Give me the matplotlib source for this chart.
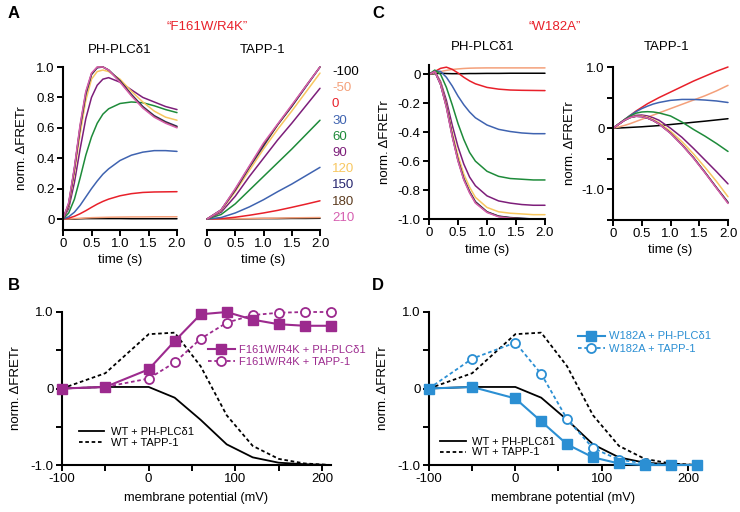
import matplotlib
matplotlib.use("Agg")
import matplotlib.pyplot as plt
from matplotlib.ticker import FuncFormatter, MultipleLocator
from matplotlib.lines import Line2D

plt.rcParams['font.family'] = ['Liberation Sans', 'DejaVu Sans']
plt.rcParams['font.size'] = 9.5

# ── data ─────────────────────────────────────────────────────────
VOLTAGES = [-100, -50, 0, 30, 60, 90, 120, 150, 180, 210]
V_COLORS = ["#000000", "#F4A07A", "#E8202A", "#3F63B0", "#1E8B3A",
            "#7D1E7A", "#F7C760", "#25246E", "#5C3B1E", "#D65FB0"]

T_FINE = [0, 0.1, 0.2, 0.3, 0.4, 0.5, 0.6, 0.7, 0.8, 1.0, 1.2, 1.4, 1.6, 1.8, 2.0]
T_COARSE = [0, 0.25, 0.5, 0.75, 1.0, 1.25, 1.5, 1.75, 2.0]

# A: F161W/R4K + PH-PLCd1 (on T_FINE)
A_PLC = [
    [0, 0, 0, 0.002, 0.003, 0.003, 0.003, 0.003, 0.003, 0.003, 0.002, 0.002, 0.002, 0.002, 0.002],
    [0, 0.001, 0.003, 0.005, 0.007, 0.009, 0.010, 0.011, 0.012, 0.013, 0.014, 0.014, 0.015, 0.015, 0.015],
    [0, 0.006, 0.018, 0.035, 0.055, 0.077, 0.098, 0.116, 0.131, 0.153, 0.167, 0.175, 0.178, 0.179, 0.18],
    [0, 0.015, 0.045, 0.09, 0.145, 0.20, 0.25, 0.295, 0.33, 0.385, 0.42, 0.44, 0.45, 0.45, 0.445],
    [0, 0.04, 0.13, 0.27, 0.42, 0.54, 0.63, 0.69, 0.725, 0.76, 0.77, 0.765, 0.745, 0.72, 0.70],
    [0, 0.07, 0.24, 0.46, 0.66, 0.80, 0.88, 0.92, 0.93, 0.90, 0.85, 0.80, 0.77, 0.74, 0.72],
    [0, 0.09, 0.30, 0.56, 0.78, 0.92, 0.97, 0.98, 0.97, 0.92, 0.84, 0.77, 0.71, 0.67, 0.65],
    [0, 0.10, 0.33, 0.60, 0.82, 0.95, 0.995, 1.0, 0.98, 0.91, 0.82, 0.74, 0.68, 0.64, 0.61],
    [0, 0.10, 0.33, 0.61, 0.83, 0.955, 0.998, 1.0, 0.98, 0.905, 0.815, 0.735, 0.675, 0.635, 0.605],
    [0, 0.11, 0.34, 0.62, 0.84, 0.96, 1.0, 1.0, 0.98, 0.90, 0.81, 0.73, 0.67, 0.63, 0.60],
]

# A: F161W/R4K + TAPP-1 (on T_COARSE)
A_TAPP = [
    [0, 0, 0.001, 0.002, 0.003, 0.003, 0.004, 0.004, 0.005],
    [0, 0, 0.002, 0.003, 0.005, 0.006, 0.008, 0.009, 0.010],
    [0, 0.003, 0.012, 0.025, 0.04, 0.057, 0.077, 0.098, 0.12],
    [0, 0.01, 0.04, 0.08, 0.127, 0.18, 0.23, 0.285, 0.34],
    [0, 0.03, 0.10, 0.19, 0.28, 0.37, 0.46, 0.555, 0.65],
    [0, 0.045, 0.15, 0.28, 0.40, 0.52, 0.63, 0.745, 0.86],
    [0, 0.055, 0.18, 0.32, 0.46, 0.59, 0.71, 0.835, 0.96],
    [0, 0.06, 0.19, 0.34, 0.48, 0.62, 0.74, 0.87, 1.0],
    [0, 0.06, 0.195, 0.345, 0.49, 0.62, 0.745, 0.875, 1.0],
    [0, 0.06, 0.20, 0.35, 0.50, 0.625, 0.75, 0.875, 1.0],
]

# C: W182A + PH-PLCd1 (on T_FINE)
C_PLC = [
    [0, 0.005, 0.008, 0.006, 0.005, 0.005, 0.005, 0.006, 0.006, 0.007, 0.007, 0.008, 0.008, 0.008, 0.008],
    [0, 0.01, 0.02, 0.028, 0.034, 0.038, 0.041, 0.043, 0.044, 0.045, 0.045, 0.045, 0.045, 0.045, 0.045],
    [0, 0.02, 0.042, 0.05, 0.035, 0.01, -0.02, -0.045, -0.065, -0.09, -0.102, -0.108, -0.11, -0.111, -0.112],
    [0, 0.025, 0.02, -0.02, -0.08, -0.15, -0.21, -0.26, -0.30, -0.35, -0.38, -0.395, -0.405, -0.41, -0.41],
    [0, 0.03, 0.0, -0.09, -0.21, -0.34, -0.45, -0.54, -0.60, -0.67, -0.705, -0.72, -0.725, -0.73, -0.73],
    [0, 0.02, -0.05, -0.18, -0.35, -0.50, -0.62, -0.71, -0.77, -0.84, -0.875, -0.89, -0.90, -0.905, -0.905],
    [0, 0.02, -0.06, -0.21, -0.40, -0.56, -0.69, -0.78, -0.85, -0.92, -0.95, -0.96, -0.965, -0.97, -0.97],
    [0, 0.02, -0.07, -0.22, -0.42, -0.59, -0.72, -0.81, -0.88, -0.95, -0.98, -0.99, -0.995, -1.0, -1.0],
    [0, 0.02, -0.07, -0.225, -0.425, -0.595, -0.725, -0.815, -0.885, -0.952, -0.982, -0.992, -0.997, -1.0, -1.0],
    [0, 0.02, -0.07, -0.23, -0.43, -0.60, -0.73, -0.82, -0.89, -0.955, -0.985, -0.995, -1.0, -1.0, -1.0],
]

# C: W182A + TAPP-1 (on T_FINE)
C_TAPP = [
    [0, 0.003, 0.008, 0.013, 0.018, 0.023, 0.03, 0.036, 0.043, 0.06, 0.078, 0.097, 0.115, 0.135, 0.155],
    [0, 0.02, 0.045, 0.075, 0.11, 0.145, 0.18, 0.215, 0.25, 0.32, 0.39, 0.46, 0.53, 0.61, 0.70],
    [0, 0.07, 0.14, 0.21, 0.28, 0.34, 0.40, 0.45, 0.50, 0.59, 0.68, 0.77, 0.85, 0.93, 1.0],
    [0, 0.07, 0.14, 0.21, 0.27, 0.32, 0.36, 0.395, 0.42, 0.455, 0.47, 0.47, 0.46, 0.445, 0.42],
    [0, 0.07, 0.14, 0.20, 0.245, 0.265, 0.27, 0.265, 0.25, 0.20, 0.10, -0.02, -0.13, -0.25, -0.38],
    [0, 0.065, 0.13, 0.18, 0.21, 0.215, 0.20, 0.17, 0.13, 0.0, -0.15, -0.33, -0.52, -0.71, -0.91],
    [0, 0.065, 0.13, 0.175, 0.20, 0.20, 0.18, 0.14, 0.09, -0.05, -0.22, -0.42, -0.64, -0.87, -1.12],
    [0, 0.065, 0.13, 0.175, 0.195, 0.19, 0.165, 0.125, 0.07, -0.08, -0.27, -0.48, -0.72, -0.97, -1.21],
    [0, 0.065, 0.13, 0.175, 0.195, 0.19, 0.165, 0.125, 0.07, -0.08, -0.27, -0.485, -0.725, -0.975, -1.22],
    [0, 0.065, 0.13, 0.175, 0.195, 0.19, 0.165, 0.125, 0.07, -0.085, -0.275, -0.49, -0.73, -0.98, -1.23],
]

# B / D: steady-state vs membrane potential
MV = [-100, -50, 0, 30, 60, 90, 120, 150, 180, 210]
WT_PLC = [0, 0.02, 0.02, -0.12, -0.41, -0.73, -0.90, -0.97, -0.99, -1.0]
WT_TAPP = [0, 0.20, 0.71, 0.73, 0.29, -0.35, -0.75, -0.92, -0.98, -1.0]
F161W_PLC = [0, 0.02, 0.25, 0.62, 0.97, 1.0, 0.90, 0.84, 0.82, 0.82]
F161W_TAPP = [0, 0.02, 0.13, 0.34, 0.65, 0.86, 0.96, 0.99, 1.0, 1.0]
W182A_PLC = [0, 0.02, -0.13, -0.43, -0.73, -0.90, -0.98, -1.0, -1.0, -1.0]
W182A_TAPP = [0, 0.39, 0.60, 0.19, -0.40, -0.78, -0.93, -0.98, -1.0, -1.0]

PURPLE = "#9C2A8E"
BLUE = "#2B8FD3"
RED = "#E8202A"

# ── layout helpers ───────────────────────────────────────────────
W, H = 740, 512
fig = plt.figure(figsize=(W / 100, H / 100), dpi=100)


def add_ax(x0, x1, ytop, ybot):
    return fig.add_axes([x0 / W, 1 - ybot / H, (x1 - x0) / W, (ybot - ytop) / H])


def ftext(x, y, s, **kw):
    # place text by pixel position (from top-left)
    kw.setdefault("ha", "center")
    kw.setdefault("va", "center")
    fig.text(x / W, 1 - y / H, s, **kw)


def fmt1(v, pos):
    return "0" if abs(v) < 1e-9 else f"{v:.1f}"


def style(ax, left=True):
    for s in ("top", "right"):
        ax.spines[s].set_visible(False)
    ax.spines["left"].set_visible(left)
    for s in ("left", "bottom"):
        ax.spines[s].set_linewidth(1.5)
    ax.tick_params(direction="out", length=4, width=1.4, labelsize=9.5, pad=2)
    if not left:
        ax.tick_params(axis="y", left=False, labelleft=False)
    ax.set_facecolor("none")


def time_panel(ax, t, curves, ylim, left=True):
    for ys, c in zip(curves, V_COLORS):
        ax.plot(t, ys, color=c, lw=1.1, clip_on=False, solid_capstyle="round")
    ax.set_xlim(0, 2)
    ax.set_ylim(*ylim)
    ax.xaxis.set_major_locator(MultipleLocator(0.5))
    ax.xaxis.set_major_formatter(FuncFormatter(fmt1))
    ax.yaxis.set_major_formatter(FuncFormatter(fmt1))
    style(ax, left)
    ax.set_xlabel("time (s)", fontsize=9.5, labelpad=3)


# ── A ────────────────────────────────────────────────────────────
axA1 = add_ax(63, 177, 67, 230)
time_panel(axA1, T_FINE, A_PLC, (-0.072, 1.0))
axA1.yaxis.set_major_locator(MultipleLocator(0.2))
axA1.set_ylabel("norm. ΔFRETr", fontsize=9.5, labelpad=6)

axA2 = add_ax(207, 320, 67, 230)
time_panel(axA2, T_COARSE, A_TAPP, (-0.072, 1.0), left=False)

ftext(120, 50, "PH-PLCδ1", fontsize=9.5)
ftext(263, 50, "TAPP-1", fontsize=9.5)

for i, (v, c) in enumerate(zip(VOLTAGES, V_COLORS)):
    ftext(332, 72 + i * 16.2, str(v), color=c, fontsize=9.5, ha="left")

ftext(8, 14, "A", fontsize=12, fontweight="bold", ha="left")
ftext(207, 27, "“F161W/R4K”", color=RED, fontsize=9.5)

# ── C ────────────────────────────────────────────────────────────
axC1 = add_ax(429, 545, 65, 219)
time_panel(axC1, T_FINE, C_PLC, (-1.0, 0.065))
axC1.yaxis.set_major_locator(MultipleLocator(0.2))
axC1.set_ylabel("norm. ΔFRETr", fontsize=9.5, labelpad=5)

axC2 = add_ax(613, 728, 67, 220)
time_panel(axC2, T_FINE, C_TAPP, (-1.5, 1.0))
axC2.yaxis.set_major_locator(MultipleLocator(0.5))
axC2.yaxis.set_major_formatter(
    FuncFormatter(lambda v, p: fmt1(v, p) if abs(v - round(v)) < 1e-9 else ""))
axC2.set_ylabel("norm. ΔFRETr", fontsize=9.5, labelpad=4)

ftext(483, 47, "PH-PLCδ1", fontsize=9.5)
ftext(667, 47, "TAPP-1", fontsize=9.5)

ftext(372, 14, "C", fontsize=12, fontweight="bold", ha="left")
ftext(555, 27, "“W182A”", color=RED, fontsize=9.5)


# ── B / D ────────────────────────────────────────────────────────
def mv_panel(ax, mut_plc, mut_tapp, color, name, leg_anchor, wt_anchor):
    ax.plot(MV, WT_PLC, color="black", lw=1.3, clip_on=False)
    ax.plot(MV, WT_TAPP, color="black", lw=1.3, ls=(0, (2, 1.5)), clip_on=False)
    h1, = ax.plot(MV, mut_tapp, color=color, lw=1.3, ls=(0, (2, 1.5)), marker="o",
                  ms=6.5, mfc="white", mec=color, mew=1.3, clip_on=False, zorder=3)
    h2, = ax.plot(MV, mut_plc, color=color, lw=1.5, marker="s", ms=6.5,
                  mfc=color, mec=color, clip_on=False, zorder=4)
    ax.set_xlim(-100, 210)
    ax.set_ylim(-1, 1)
    ax.xaxis.set_major_locator(MultipleLocator(50))
    ax.xaxis.set_major_formatter(
        FuncFormatter(lambda v, p: f"{v:.0f}" if round(v) % 100 == 0 else ""))
    ax.yaxis.set_major_locator(MultipleLocator(0.5))
    ax.yaxis.set_major_formatter(
        FuncFormatter(lambda v, p: fmt1(v, p) if abs(v - round(v)) < 1e-9 else ""))
    style(ax)
    ax.set_xlabel("membrane potential (mV)", fontsize=9.2, labelpad=5)
    ax.set_ylabel("norm. ΔFRETr", fontsize=9.5, labelpad=6)

    leg1 = ax.legend([h2, h1], [f"{name} + PH-PLCδ1", f"{name} + TAPP-1"],
                     loc="upper left", bbox_to_anchor=leg_anchor, frameon=False,
                     labelcolor=color, fontsize=8, handlelength=2.4,
                     handletextpad=0.4, labelspacing=0.25, borderpad=0, borderaxespad=0)
    ax.add_artist(leg1)
    wt = [Line2D([], [], color="black", lw=1.3),
          Line2D([], [], color="black", lw=1.3, ls=(0, (2, 1.5)))]
    ax.legend(wt, ["WT + PH-PLCδ1", "WT + TAPP-1"], loc="upper left",
              bbox_to_anchor=wt_anchor, frameon=False, fontsize=8,
              handlelength=2.3, handletextpad=0.6, labelspacing=0.08,
              borderpad=0, borderaxespad=0)


axB = add_ax(62, 330.7, 312, 465)
mv_panel(axB, F161W_PLC, F161W_TAPP, PURPLE, "F161W/R4K", (0.543, 0.787), (0.063, 0.25))
ftext(8, 286, "B", fontsize=12, fontweight="bold", ha="left")

axD = add_ax(429, 696.6, 312, 465)
mv_panel(axD, W182A_PLC, W182A_TAPP, BLUE, "W182A", (0.557, 0.873), (0.041, 0.186))
ftext(372, 286, "D", fontsize=12, fontweight="bold", ha="left")

fig.savefig("out.png", dpi=100)
